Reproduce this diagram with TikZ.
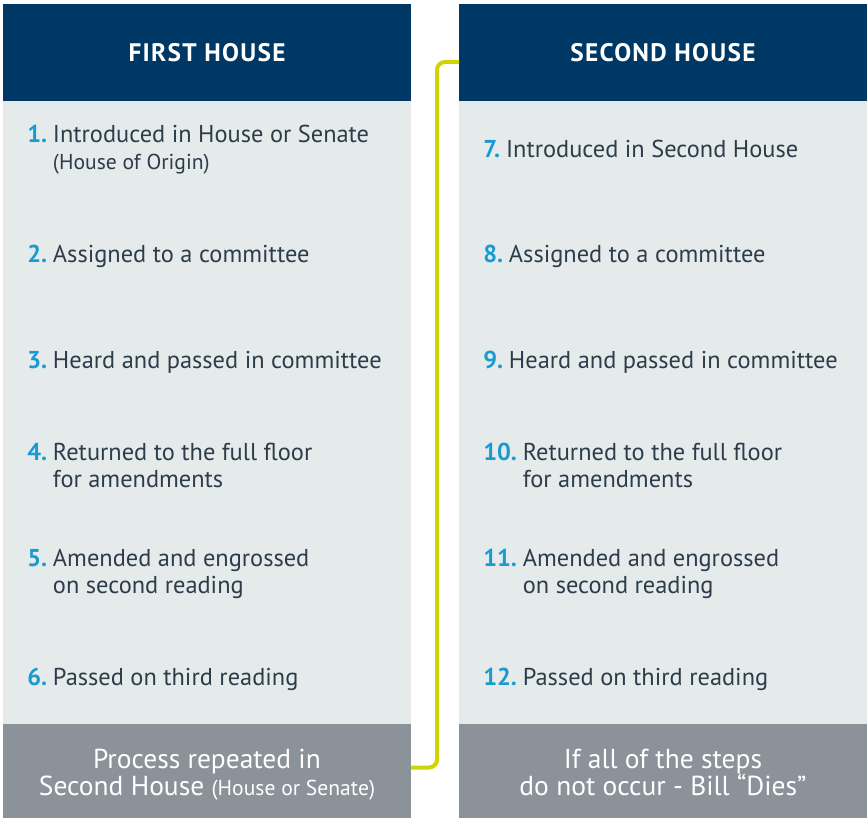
\documentclass[tikz,border=0pt]{standalone}
\usepackage{fontspec}
\setmainfont{PT Sans}
\usetikzlibrary{positioning}
\definecolor{navy}{RGB}{0,56,101}
\definecolor{panel}{RGB}{229,235,235}
\definecolor{slate}{RGB}{139,146,154}
\definecolor{stepblue}{RGB}{27,154,210}
\definecolor{ink}{RGB}{45,60,75}
\definecolor{lime}{RGB}{208,212,0}
\newcommand{\stepfont}{\fontsize{18.3}{20.25}\selectfont}
\newcommand{\notefont}{\fontsize{16.2}{20.25}\selectfont}
\newcommand{\steptext}[1]{\begin{tabular}[t]{@{}l@{}}#1\end{tabular}}
\begin{document}
\begin{tikzpicture}[x=0.75pt,y=-0.75pt,
	box/.style={inner sep=0pt,outer sep=0pt,minimum width=306pt},
	head/.style={box,fill=navy,text=white,minimum height=72.75pt,font=\fontsize{19}{22}\selectfont\bfseries\addfontfeatures{LetterSpace=5}},
	body/.style={box,fill=panel,minimum height=467.25pt},
	foot/.style={box,fill=slate,minimum height=70.5pt},
	foottext/.style={inner sep=0pt,text=white,align=center,font=\fontsize{20.6}{20.25}\selectfont},
	num/.style={inner sep=0pt,anchor=base west,text=stepblue,font=\stepfont\bfseries},
	stepline/.style={inner sep=0pt,anchor=base west,text=ink,font=\stepfont},
	link/.style={draw=lime,line width=3pt,rounded corners=6pt}]
	\useasboundingbox (0,0) rectangle (868,818);
	% columns
	\node[head,anchor=north west] (h1) at (3,4) {FIRST HOUSE};
	\node[body,below=0pt of h1] (b1) {};
	\node[foot,below=0pt of b1] (f1) {};
	\node[head,anchor=north west] (h2) at (459,4) {SECOND HOUSE};
	\node[body,below=0pt of h2] (b2) {};
	\node[foot,below=0pt of b2] (f2) {};
	\node[foottext,yshift=-3pt] (ft1) at (f1) {Process repeated in\\Second House {\notefont(House or Senate)}};
	\node[foottext,yshift=-0.8pt] (ft2) at (f2) {If all of the steps\\do not occur - Bill “Dies”};
	% steps
	\foreach \n/\x/\y/\t in {
		1/27/142/{Introduced in House or Senate\\{\notefont(House of Origin)}},
		2/27/262/{Assigned to a committee},
		3/27/368/{Heard and passed in committee},
		4/27/460/{Returned to the full floor\\for amendments},
		5/27/566/{Amended and engrossed\\on second reading},
		6/27/685/{Passed on third reading},
		7/483/157/{Introduced in Second House},
		8/483/262/{Assigned to a committee},
		9/483/368/{Heard and passed in committee},
		10/483/460/{Returned to the full floor\\for amendments},
		11/483/566/{Amended and engrossed\\on second reading},
		12/483/685/{Passed on third reading}}{
		\node[num] (n\n) at (\x,\y) {\n.};
		\node[stepline] (s\n) at ([xshift=4pt]n\n.base east) {\steptext{\t}};
	}
	% connector
	\coordinate (bend) at (437,62);
	\draw[link] ([yshift=-7.1pt]h2.west) -- (bend) |- ([yshift=2.6pt]f1.east);
\end{tikzpicture}
\end{document}
